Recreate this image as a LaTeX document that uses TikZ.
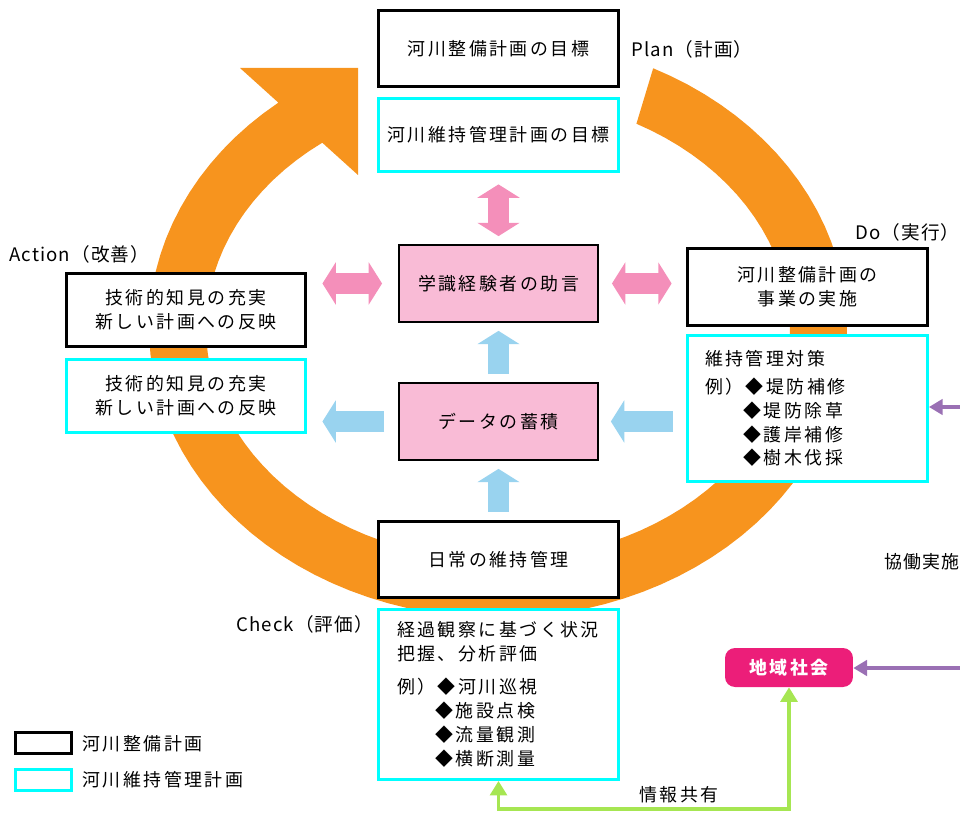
\documentclass[tikz,border=0pt]{standalone}
\usepackage{fontspec}
\setmainfont{Noto Sans CJK JP}[LetterSpace=14]
\newfontfamily\phasefont{Noto Sans CJK JP}[LetterSpace=6]
\usetikzlibrary{arrows.meta}

\definecolor{ringorange}{RGB}{247,148,30}
\definecolor{arrowpink}{RGB}{244,143,186}
\definecolor{boxpink}{RGB}{249,187,214}
\definecolor{arrowblue}{RGB}{153,211,239}
\definecolor{planblue}{RGB}{0,255,255}
\definecolor{localred}{RGB}{236,30,121}
\definecolor{sharegreen}{RGB}{166,230,82}
\definecolor{coopviolet}{RGB}{154,112,180}

\tikzset{
    seibi/.style={draw=black, line width=1.7pt, fill=white, inner sep=0pt, align=center},
    iji/.style={draw=planblue, line width=1.7pt, fill=white, inner sep=0pt},
    core/.style={draw=black, line width=1.1pt, fill=boxpink, inner sep=0pt,
        minimum width=3.98cm, minimum height=1.54cm},
    fatpink/.style={draw=arrowpink, line width=11.9pt,
        {Triangle[width=23.8pt,length=7.6pt]}-{Triangle[width=23.8pt,length=7.6pt]}},
    fatblue/.style={draw=arrowblue, line width=12.2pt, -{Triangle[width=23.8pt,length=7.6pt]}},
    thinlink/.style={line width=1.8pt, {Triangle[width=9.6pt,length=8.2pt]}-{Triangle[width=9.6pt,length=8.2pt]}},
    coop/.style={draw=coopviolet, line width=1.8pt, -{Triangle[width=8.8pt,length=7.8pt]}},
    phase/.style={anchor=west, inner sep=0pt, font=\fontsize{10.6pt}{13.6pt}\phasefont},
}

\begin{document}
\begin{tikzpicture}[x=0.02cm, y=-0.02cm, font=\fontsize{10.2pt}{13.6pt}\selectfont]
    \useasboundingbox (0,0) rectangle (960,814);
    % PDCA ring
    \fill[ringorange] plot[domain=-63.6:231, samples=90] ({498+349*cos(\x)}, {328+290*sin(\x)})
        -- (240,68) -- (358,68) -- (358,175)
        -- plot[domain=-233:61.7, samples=90] ({498+292*cos(\x)}, {328-232*sin(\x)}) -- cycle;

    % Plan
    \node[seibi, minimum width=4.8cm, minimum height=1.52cm] (plan1) at (498.5,48.5) {河川整備計画の目標};
    \node[iji, minimum width=4.8cm, minimum height=1.46cm] (plan2) at (498.5,135) {河川維持管理計画の目標};
    \node[phase] (planlbl) at (631,49) {Plan（計画）};

    % Do
    \node[seibi, minimum width=4.8cm, minimum height=1.54cm] (do1) at (807.5,287) {河川整備計画の\\事業の実施};
    \node[iji, minimum width=4.8cm, minimum height=2.92cm, text width=4.1cm, align=left] (do2) at (807.5,408.5)
        {維持管理対策\\[2.3pt]
         例）◆堤防補修\\
         \phantom{例）}◆堤防除草\\
         \phantom{例）}◆護岸補修\\
         \phantom{例）}◆樹木伐採};
    \node[phase] (dolbl) at (855,232) {Do（実行）};

    % Check
    \node[seibi, minimum width=4.8cm, minimum height=1.52cm] (check1) at (498.5,559.5) {日常の維持管理};
    \node[iji, minimum width=4.8cm, minimum height=3.4cm, text width=4.06cm, align=left] (check2) at (498.5,694.5)
        {経過観察に基づく状況\\
         把握、分析評価\\[5.1pt]
         例）◆河川巡視\\
         \phantom{例）}◆施設点検\\
         \phantom{例）}◆流量観測\\
         \phantom{例）}◆横断測量};
    \node[phase] (checklbl) at (236,624) {Check（評価）};

    % Action
    \node[seibi, minimum width=4.78cm, minimum height=1.46cm] (act1) at (186,310) {技術的知見の充実\\新しい計画への反映};
    \node[iji, minimum width=4.78cm, minimum height=1.46cm, align=center] (act2) at (186,396) {技術的知見の充実\\新しい計画への反映};
    \node[phase] (actlbl) at (9,254) {Action（改善）};

    % advice and data
    \node[core] (advice) at (498.5,283.5) {学識経験者の助言};
    \node[core] (data) at (498.5,421.5) {データの蓄積};

    \draw[fatpink, shorten <=6.5pt, shorten >=4.5pt] (plan2.south) -- (advice.north);
    \draw[fatpink, shorten <=9.1pt, shorten >=8.8pt] (advice.west) -- (advice.west -| act1.east);
    \draw[fatpink, shorten <=7.4pt, shorten >=8.2pt] (advice.east) -- (advice.east -| do1.west);
    \draw[fatblue, shorten <=7.9pt, shorten >=8.8pt] (data.west) -- (data.west -| act2.east);
    \draw[fatblue, shorten <=7.7pt, shorten >=6.8pt] (data.east -| do2.west) -- (data.east);
    \draw[fatblue, shorten <=4.8pt, shorten >=4.5pt] (check1.north) -- (data.south);
    \draw[fatblue, shorten <=4.5pt, shorten >=4.5pt] (data.north) -- (advice.south);

    % local community
    \node[fill=localred, rounded corners=0.2cm, minimum width=2.56cm, minimum height=0.78cm,
        text=white, font=\fontsize{10.2pt}{13.6pt}\selectfont\bfseries] (local) at (789,667.5) {地域社会};
    \draw[thinlink, draw=sharegreen] (check2.south) -- ++(0,28) -| (local.south);
    \node (sharelbl) at (679,795) {情報共有};
    \coordinate (coopA) at (960,407);
    \coordinate (coopB) at (960,668);
    \draw[coop] (coopA) -- (coopA -| do2.east);
    \draw[coop] (coopB) -- (coopB -| local.east);
    \node[phase, font=\fontsize{10.2pt}{13.6pt}\phasefont] (cooplbl) at (884,562) {協働実施};

    % legend
    \node[seibi, minimum width=1.12cm, minimum height=0.42cm] (key1) at (43.5,743) {};
    \node[phase, font=\fontsize{10.2pt}{13.6pt}\selectfont] (key1lbl) at (82,744) {河川整備計画};
    \node[iji, minimum width=1.12cm, minimum height=0.42cm] (key2) at (43.5,780) {};
    \node[phase, font=\fontsize{10.2pt}{13.6pt}\selectfont] (key2lbl) at (82,780) {河川維持管理計画};
\end{tikzpicture}
\end{document}
